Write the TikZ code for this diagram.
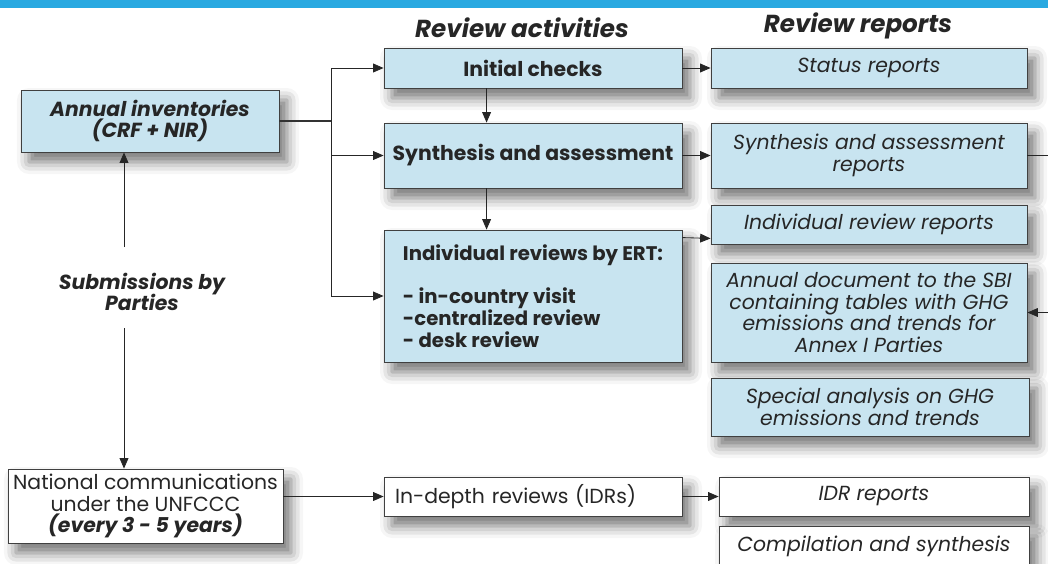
\documentclass[tikz,border=0pt]{standalone}
\usepackage{fontspec}
\setmainfont{Poppins}
\usepackage{xcolor}
\usetikzlibrary{arrows.meta,shadows.blur}
\definecolor{boxblue}{HTML}{C8E4F0}
\definecolor{bandblue}{HTML}{29A9E1}

\begin{document}
\begin{tikzpicture}[x=0.25mm, y=-0.25mm, font=\fontsize{14.5}{15.5}\selectfont, text=black!85,
  >={Triangle[length=2.6mm,width=2.2mm]},
  box/.style={draw=black!75, line width=0.6pt, align=center, inner sep=1pt,
    blur shadow={shadow xshift=2mm, shadow yshift=-2.5mm, shadow blur radius=3mm, shadow opacity=55}},
  act/.style={box, fill=boxblue, minimum width=74.5mm, font=\fontsize{14.5}{15.5}\selectfont\bfseries},
  rep/.style={box, fill=boxblue, minimum width=79mm, font=\fontsize{14.5}{15.5}\selectfont\itshape},
  plain/.style={box, fill=white},
  head/.style={font=\fontsize{17.5}{20}\selectfont\bfseries\itshape},
  line/.style={->, line width=0.6pt, draw=black!85}]

\useasboundingbox (0,0) rectangle (1048,563);
\fill[bandblue] (0,0) rectangle (1048,8);

\node[head] (acthead) at (522,28) {Review activities};
\node[head] (rephead) at (858,26) {Review reports};

\node[box, fill=boxblue, minimum width=64.5mm, minimum height=15.5mm, font=\fontsize{14.5}{15.5}\selectfont\bfseries\itshape] (inv) at (150,121) {Annual inventories\\(CRF + NIR)};
\node[font=\fontsize{14.5}{15.5}\selectfont\bfseries\itshape, align=center] (subm) at (142,292) {Submissions by\\Parties};
\node[plain, minimum width=68.75mm, minimum height=18.5mm] (natcom) at (145.5,506) {National communications\\under the UNFCCC\\{\bfseries\itshape (every 3 - 5 years)}};

\node[act, minimum height=10mm] (checks) at (533,68) {Initial checks};
\node[act, minimum height=16.25mm] (synth) at (533,155.5) {Synthesis and assessment};
\node[act, minimum height=33mm, align=left, font=\fontsize{14}{15.5}\selectfont\bfseries] (indiv) at (533,296) {Individual reviews by ERT:\\[15.5pt]- in-country visit\\-centralized review\\- desk review};
\node[plain, minimum width=74.5mm, minimum height=9.75mm, text width=69mm, align=left] (idr) at (533,496.5) {In-depth reviews (IDRs)};

\node[rep, minimum height=10mm] (status) at (869,68) {Status reports};
\node[rep, minimum height=16.25mm] (synthrep) at (869,155.5) {Synthesis and assessment\\reports};
\node[rep, minimum height=9.75mm] (indivrep) at (869,224.5) {Individual review reports};
\node[rep, minimum height=24.75mm] (annual) at (869,312.5) {Annual document to the SBI\\containing tables with GHG\\emissions and trends for\\Annex I Parties};
\node[rep, minimum width=79.5mm, minimum height=14.5mm] (special) at (870,407) {Special analysis on GHG\\emissions and trends};
\node[plain, minimum width=77.5mm, minimum height=9.75mm, font=\fontsize{14.5}{15.5}\selectfont\itshape] (idrrep) at (874,496.5) {IDR reports};
\node[plain, minimum width=77.5mm, minimum height=10mm, font=\fontsize{14.5}{15.5}\selectfont\itshape] (compil) at (874,546) {Compilation and synthesis};

\coordinate (split) at (331,121);
\coordinate (up) at (124,247);
\coordinate (dn) at (124,328);
\coordinate (edge1) at (1056,155.5);
\coordinate (edge2) at (1056,312.5);

\draw[line width=1.6pt, black!80] (inv.east) -- (split);
\draw[line] (split) |- (checks.west);
\draw[line] (split) |- (synth.west);
\draw[line] (split) |- (indiv.west);
\draw[line] ([xshift=25.75mm]checks.south west) -- ([xshift=25.75mm]synth.north west);
\draw[line] ([xshift=25.75mm]synth.south west) -- ([xshift=25.75mm]indiv.north west);
\draw[line] (checks.east) -- (status.west);
\draw[line] (synth.east) -- (synthrep.west);
\draw[line] ([yshift=-2mm]indiv.north east) -- ([yshift=1.5mm]indivrep.south west);
\draw[line] (synthrep.east) -- (edge1) -- (edge2) -- (annual.east);
\draw[line] (up) -- (up |- inv.south);
\draw[line] (dn) -- (dn |- natcom.north);
\draw[line] (idr.west -| natcom.east) -- (idr.west);
\draw[line] (idr.east) -- (idrrep.west);
\end{tikzpicture}
\end{document}
